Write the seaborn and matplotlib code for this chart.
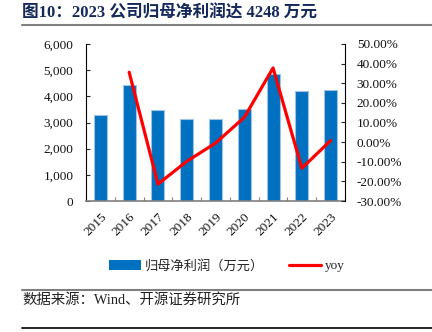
import matplotlib
matplotlib.use("Agg")
import matplotlib.pyplot as plt
import seaborn as sns
import numpy as np
import pandas as pd
from matplotlib.lines import Line2D
from matplotlib.patches import Patch
from matplotlib.ticker import FuncFormatter, MultipleLocator

years = ["2015", "2016", "2017", "2018", "2019", "2020", "2021", "2022", "2023"]
profit = [3270, 4430, 3480, 3140, 3130, 3530, 4870, 4215, 4248]
yoy = [np.nan, 35.6, -21.4, -9.8, -0.5, 12.6, 37.8, -13.3, 0.8]

title = "图10：2023 公司归母净利润达 4248 万元"
source = "数据来源：Wind、开源证券研究所"
bar_label = "归母净利润（万元）"
line_label = "yoy"

sns.set_theme(style="white")
plt.rcParams["font.family"] = ["Liberation Serif", "Noto Sans CJK SC"]
plt.rcParams["axes.unicode_minus"] = False

BLUE = "#0070C0"
RED = "#FF0000"

fig = plt.figure(figsize=(4.32, 3.32), dpi=100)
ax = fig.add_axes([86/432, 1-201/332, (345-86)/432, (201-44)/332])

df = pd.DataFrame({"year": years, "profit": profit, "yoy": yoy})
sns.barplot(data=df, x="year", y="profit", color=BLUE, width=0.45, ax=ax,
            edgecolor="#9DC3E6", linewidth=0.8, saturation=1)
ax.set_xlim(-0.5, len(years) - 0.5)
ax.set_ylim(0, 6000)
ax.yaxis.set_major_locator(MultipleLocator(1000))
ax.yaxis.set_major_formatter(FuncFormatter(lambda v, p: f"{int(v):,}"))
ax.set_xlabel("")
ax.set_ylabel("")

ax2 = ax.twinx()
sns.lineplot(x=np.arange(len(years)), y=df["yoy"], ax=ax2, color=RED, linewidth=2.3)
ax2.set_ylim(-30, 50)
ax2.yaxis.set_major_locator(MultipleLocator(10))
ax2.yaxis.set_major_formatter(FuncFormatter(lambda v, p: f"{v:.2f}%"))
ax2.set_ylabel("")
ax2.set_xlim(-0.5, len(years) - 0.5)

for a in (ax, ax2):
    a.spines["top"].set_visible(False)
ax.spines["right"].set_visible(False)
ax.spines["left"].set_color("#000000")
ax.spines["bottom"].set_color("#808080")
ax.spines["left"].set_linewidth(0.8)
ax.spines["bottom"].set_linewidth(1.2)
ax2.spines["left"].set_visible(False)
ax2.spines["bottom"].set_visible(False)
ax2.spines["right"].set_color("#000000")
ax2.spines["right"].set_linewidth(0.8)

ax.tick_params(axis="y", direction="in", length=3, width=0.8, labelsize=9.5, pad=9, left=True, labelcolor="#111111")
ax2.tick_params(axis="y", direction="in", length=3, width=0.8, labelsize=9.5, pad=8.5, right=True, labelcolor="#111111")
ax.set_xticks(np.arange(len(years)))
ax.set_xticklabels(years, rotation=45, ha="right", rotation_mode="anchor", fontsize=9.5, color="#111111")
ax.tick_params(axis="x", length=0, pad=7)
ax.set_xticks(np.arange(len(years) + 1) - 0.5, minor=True)
ax.tick_params(axis="x", which="minor", direction="in", length=3, width=0.8, color="#808080", bottom=True)

handles = [Patch(facecolor=BLUE, edgecolor="none"),
           Line2D([0], [0], color=RED, linewidth=2.3)]
fig.legend(handles, [bar_label, line_label], loc="center", ncol=2,
           bbox_to_anchor=(227/432, 1-266/332), frameon=False,
           handlelength=2.4, handleheight=0.75, columnspacing=1.9, handletextpad=0.3,
           prop={"family": ["Liberation Serif", "Noto Sans CJK SC"], "size": 9.5})

fig.text(22/432, 1-13/332, title, ha="left", va="center", fontsize=12,
         fontweight="bold", color="#14285A", family=["Liberation Serif", "Noto Sans CJK SC"])
fig.text(22/432, 1-300/332, source, ha="left", va="center", fontsize=10.4,
         color="#222222", family=["Liberation Serif", "Noto Sans CJK SC"])

fig.add_artist(Line2D([22/432, 1], [1-25/332]*2, color="#7F7F7F", linewidth=1.5))
fig.add_artist(Line2D([22/432, 1], [1-290/332]*2, color="#7F7F7F", linewidth=1.5))
fig.add_artist(Line2D([22/432, 1], [1-328/332]*2, color="#000000", linewidth=1.2))

fig.savefig("out.png", dpi=100)
